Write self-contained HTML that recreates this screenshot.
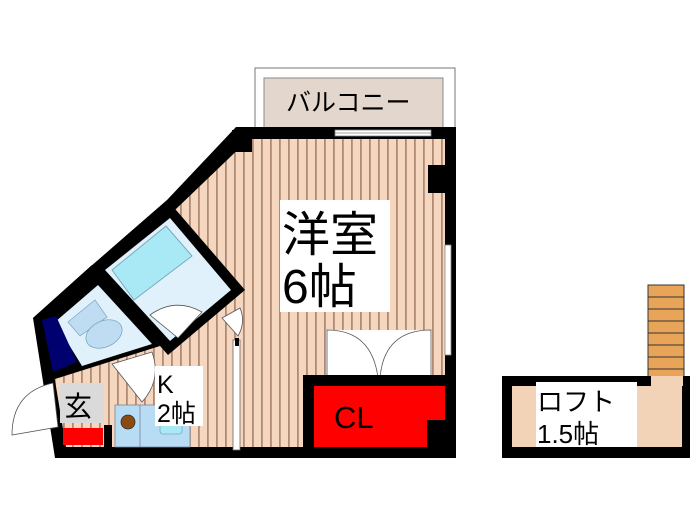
<!DOCTYPE html>
<html><head><meta charset="utf-8"><style>
html,body{margin:0;padding:0;background:#fff;width:700px;height:525px;overflow:hidden}
svg{display:block}
text{font-family:"Liberation Sans","Noto Sans CJK JP",sans-serif;fill:#000}
</style></head><body>
<svg width="700" height="525" viewBox="0 0 700 525" xmlns="http://www.w3.org/2000/svg">
<defs>
<pattern id="st" x="0" y="0" width="9" height="10" patternUnits="userSpaceOnUse">
<rect width="9" height="10" fill="#f5d6bf"/>
<rect x="0" width="1.8" height="10" fill="#b08a74"/>
</pattern>
</defs>
<rect x="255" y="68" width="200" height="62" fill="#fff" stroke="#777" stroke-width="1"/>
<rect x="264" y="78" width="179" height="50" fill="#e3d6cc" stroke="#888" stroke-width="1"/>
<text x="286" y="111" font-size="25">バルコニー</text>
<polygon points="236,127 456,127 456,458 55,458 33,318 90,267 167,200" fill="#000"/>
<polygon points="249,139 445,139 445,447 66,447 46,326 100,276 176,209 249,139" fill="url(#st)"/>
<rect x="335" y="130" width="96" height="6" fill="#fff" stroke="#888" stroke-width="0.8"/>
<line x1="335" y1="133" x2="431" y2="133" stroke="#888" stroke-width="0.8"/>
<rect x="232" y="130" width="20" height="22" fill="#000"/>
<rect x="428" y="165" width="20" height="28" fill="#000"/>
<rect x="445" y="245" width="6" height="110" fill="#fff" stroke="#888" stroke-width="0.8"/>
<polygon points="90,267 170,203 245,290 168,355" fill="#000"/>
<polygon points="105,270 170,218 231,290 170,341" fill="#e0f1fb"/>
<polygon points="112,270 166,226 192,256 134,300" fill="#a9e9f6" stroke="#7ab" stroke-width="1" stroke-linejoin="round"/>
<path d="M150,315 Q175,297 202,312 L178,338 Z" fill="#fff" stroke="#555" stroke-width="0.8"/>
<polygon points="33,318 92,265 160,346 55,379" fill="#000"/>
<polygon points="55,322 98,285 152,344 82,366" fill="#e0f1fb"/>
<polygon points="68,322 95,300 107,317 80,336" fill="#bfdcf2" stroke="#8ac" stroke-width="0.8"/>
<ellipse cx="104" cy="334" rx="19" ry="13" transform="rotate(-25 104 334)" fill="#bfdcf2" stroke="#7ab" stroke-width="0.8"/>
<polygon points="42,320 56,316 77,362 53,372" fill="#00006e"/>
<path d="M112,364 L152,352 Q162,380 142,402 Z" fill="#fff" stroke="#555" stroke-width="0.8"/>
<path d="M222,318 L240,308 Q246,322 238,336 Z" fill="#fff" stroke="#555" stroke-width="0.8"/>
<rect x="233" y="340" width="7" height="110" fill="#fff" stroke="#666" stroke-width="0.8"/>
<rect x="235" y="338" width="4" height="8" fill="#000"/>
<rect x="60" y="383" width="44" height="40" fill="#dadada"/>
<text x="64" y="416" font-size="28">玄</text>
<rect x="63" y="428" width="40" height="17" fill="#f00"/>
<rect x="104" y="425" width="8" height="22" fill="#000"/>
<path d="M53,383 Q12,392 12,435 L58,427 Z" fill="#fff" stroke="#555" stroke-width="0.8"/>
<rect x="115" y="405" width="75" height="42" fill="#b8dcf4" stroke="#789" stroke-width="0.8"/>
<line x1="140" y1="405" x2="140" y2="447" stroke="#789" stroke-width="0.8"/>
<circle cx="128" cy="422" r="7" fill="#8a4a10" stroke="#333" stroke-width="0.8"/>
<rect x="160" y="420" width="22" height="14" rx="3" fill="#a9e9f6" stroke="#7ab" stroke-width="0.8"/>
<rect x="155" y="366" width="48" height="60" fill="#fff"/>
<text x="157" y="393" font-size="25">K</text>
<text x="157" y="422" font-size="25">2帖</text>
<rect x="280" y="200" width="110" height="112" fill="#fff"/>
<text x="282" y="251" font-size="48">洋室</text>
<text x="282" y="303" font-size="48">6帖</text>
<rect x="326" y="330" width="106" height="50" fill="#fff"/>
<path d="M327,330 Q372,330 378,378 L327,378 Z" fill="#fff" stroke="#555" stroke-width="0.8"/>
<path d="M431,330 Q384,330 380,378 L431,378 Z" fill="#fff" stroke="#555" stroke-width="0.8"/>
<rect x="303" y="375" width="12" height="82" fill="#000"/>
<rect x="303" y="375" width="150" height="11" fill="#000"/>
<rect x="314" y="386" width="131" height="61" fill="#f00"/>
<rect x="427" y="420" width="20" height="30" fill="#000"/>
<text x="334" y="428" font-size="31">CL</text>
<rect x="648" y="285" width="36" height="94" fill="#e8a458" stroke="#333" stroke-width="1"/>
<g stroke="#333" stroke-width="1">
<line x1="648" y1="297" x2="684" y2="297"/><line x1="648" y1="309" x2="684" y2="309"/>
<line x1="648" y1="321" x2="684" y2="321"/><line x1="648" y1="333" x2="684" y2="333"/>
<line x1="648" y1="345" x2="684" y2="345"/><line x1="648" y1="357" x2="684" y2="357"/>
<line x1="648" y1="369" x2="684" y2="369"/>
</g>
<rect x="502" y="376" width="188" height="82" fill="#000"/>
<rect x="512" y="386" width="170" height="61" fill="#f2d3b8"/>
<rect x="651" y="376" width="32" height="10" fill="#f2d3b8"/>
<rect x="536" y="382" width="101" height="65" fill="#fff"/>
<text x="537" y="411" font-size="26">ロフト</text>
<text x="537" y="443" font-size="26">1.5帖</text>
</svg>
</body></html>
